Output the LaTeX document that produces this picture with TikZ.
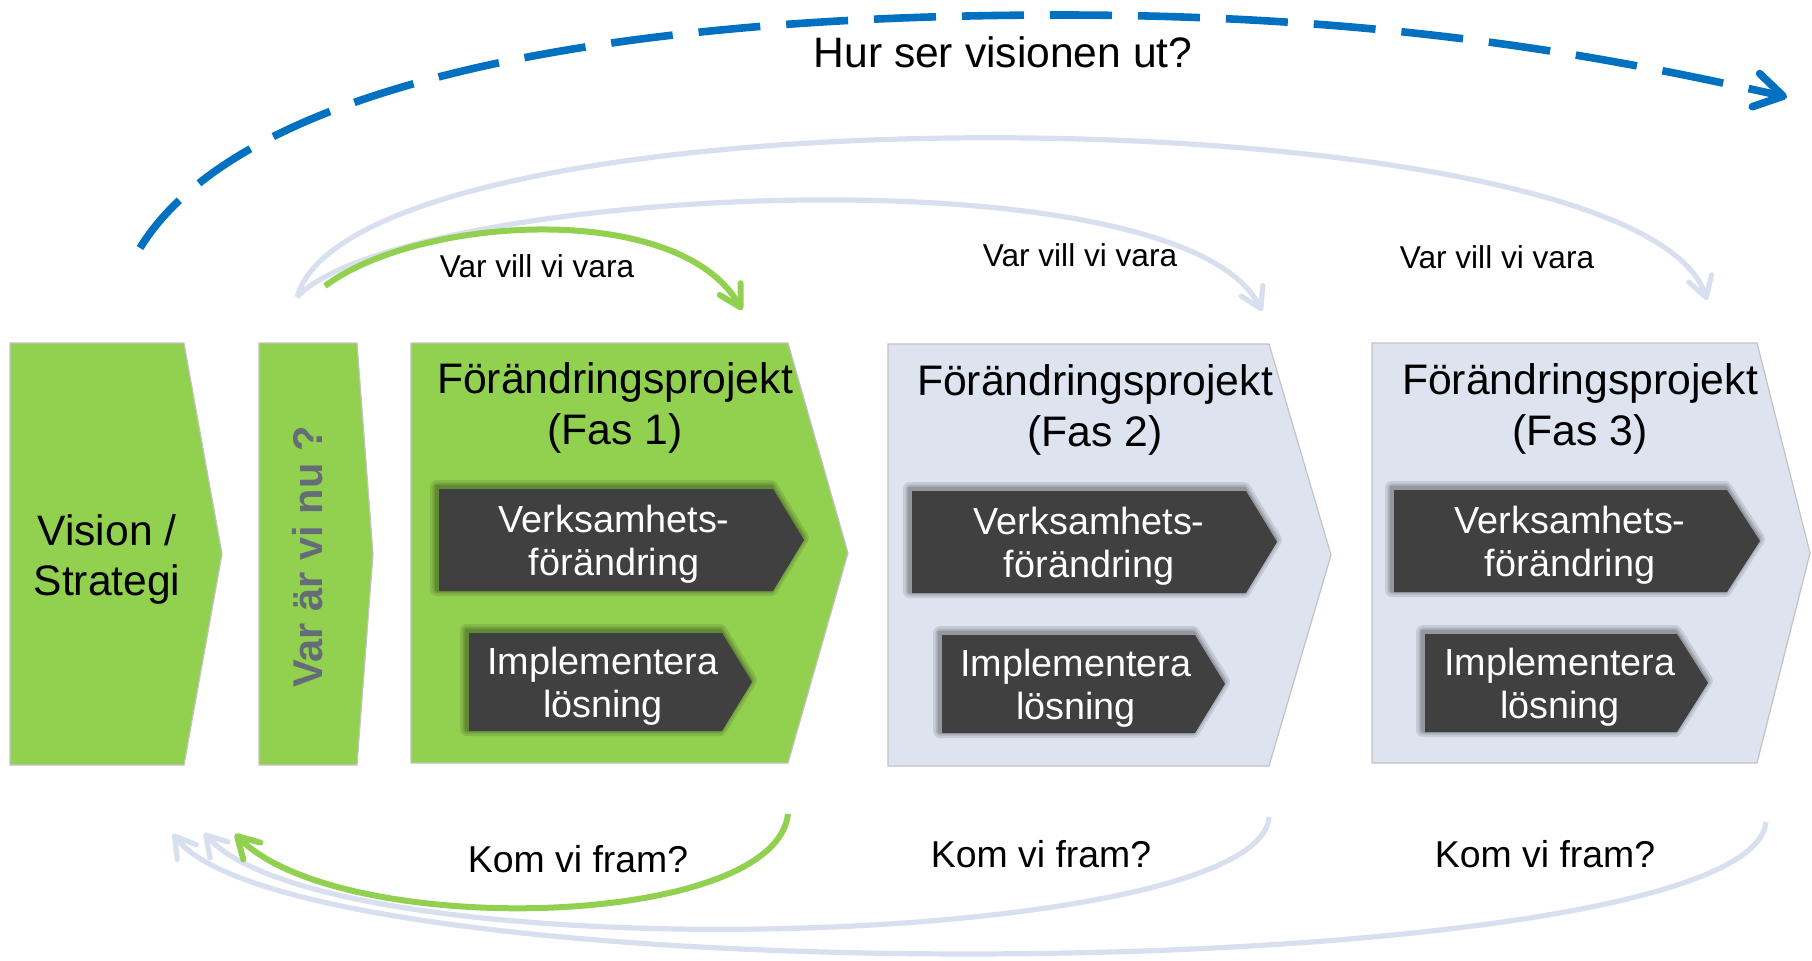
\documentclass[tikz,border=0pt]{standalone}
\usepackage{fontspec}
\setmainfont{Liberation Sans}
\usetikzlibrary{arrows.meta}
\definecolor{fgreen}{HTML}{92D050}
\definecolor{flight}{HTML}{DDE4F0}
\definecolor{farc}{HTML}{D8E0EF}
\definecolor{fblue}{HTML}{0070C0}
\definecolor{fdark}{HTML}{404040}
\definecolor{fgray}{HTML}{646C78}
\definecolor{fedge}{HTML}{C3C3C3}
\newcommand\chev[6][]{\path[#1] (#2,#3) -- (#4,#3) -- (#5,{(#3+#6)/2}) -- (#4,#6) -- (#2,#6) -- cycle;}
\newcommand\darkchev[5]{%
  \chev[halo=7pt, halo opacity=0.10, shift={(-2,-2)}]{#1}{#2}{#3}{#4}{#5}
  \chev[halo=4.5pt, halo opacity=0.12, shift={(-2,-2)}]{#1}{#2}{#3}{#4}{#5}
  \chev[halo=2.5pt, halo opacity=0.15, shift={(-2,-2)}]{#1}{#2}{#3}{#4}{#5}
  \chev[darkbox]{#1}{#2}{#3}{#4}{#5}}
\begin{document}
\begin{tikzpicture}[x=0.5pt,y=-0.5pt,
  greenbox/.style={fill=fgreen, draw=fedge, line width=0.6pt},
  lightbox/.style={fill=flight, draw=fedge, line width=0.6pt},
  darkbox/.style={fill=fdark},
  halo/.style={draw=black, line join=round, line width=#1},
  halo opacity/.style={draw opacity=#1},
  title/.style={font=\fontsize{21.35}{25.5}\selectfont, align=center, inner sep=0pt},
  dtext/.style={text=white, font=\fontsize{18.9}{21.5}\selectfont, align=center, inner sep=0pt},
  smalltext/.style={font=\fontsize{15.8}{18}\selectfont, anchor=base, inner sep=0pt},
  komtext/.style={font=\fontsize{18.7}{22}\selectfont, anchor=base, inner sep=0pt},
  larc/.style={draw=farc, line width=2.6pt, -{Straight Barb[length=10pt,width=12pt,round]}},
  garc/.style={draw=fgreen, line width=3pt, -{Straight Barb[length=10.5pt,width=12pt,round]}},
  barc/.style={draw=fblue, line width=3.8pt, dash pattern=on 31pt off 13pt, -{Straight Barb[length=14pt,width=17pt,round]}}
]
\fill[white] (0,0) rectangle (1812,960);
\useasboundingbox (0,0) rectangle (1812,960);

% main chevrons
\chev[greenbox]{10}{343}{184}{222}{765}
\chev[greenbox]{259}{343}{357}{373}{765}
\chev[greenbox]{411}{343}{788}{848}{763}
\chev[lightbox]{888}{344}{1269}{1331}{766}
\chev[lightbox]{1372}{343}{1757}{1810}{763}

% inner dark chevrons
\darkchev{439}{489}{773}{804}{591}
\darkchev{469}{633}{722}{752}{731}
\darkchev{912}{491}{1246}{1277}{593}
\darkchev{942}{635}{1195}{1225}{733}
\darkchev{1394}{490}{1727}{1760}{592}
\darkchev{1425}{634}{1677}{1708}{732}

% texts in boxes
\node[font=\fontsize{21.3}{25}\selectfont, align=center, inner sep=0pt] (vis) at (107,559) {Vision /\\Strategi};
\node[rotate=90, anchor=base, inner sep=0pt, font=\bfseries\fontsize{20.8}{24}\selectfont, text=fgray] (nu) at (322,557) {Var är vi nu ?};
\node[title] (t1) at (615,408) {Förändringsprojekt\\(Fas 1)};
\node[title] (t2) at (1095,410) {Förändringsprojekt\\(Fas 2)};
\node[title] (t3) at (1580,409) {Förändringsprojekt\\(Fas 3)};
\node[dtext] (v1) at (614,544) {Verksamhets-\\förändring};
\node[dtext] (i1) at (603,686) {Implementera\\lösning};
\node[dtext] (v2) at (1089,546) {Verksamhets-\\förändring};
\node[dtext] (i2) at (1076,688) {Implementera\\lösning};
\node[dtext] (v3) at (1570,545) {Verksamhets-\\förändring};
\node[dtext] (i3) at (1560,687) {Implementera\\lösning};

% arc end points
\coordinate (bs) at (140,248);
\coordinate (bp) at (1061,15);
\coordinate (be) at (1787,97);
\coordinate (gts) at (325,286);
\coordinate (gte) at (742,310);
\coordinate (lts) at (297,297);
\coordinate (l2e) at (1262,311);
\coordinate (l3e) at (1707,300);
\coordinate (gbs) at (788,814);
\coordinate (gbe) at (235,834);
\coordinate (lb2s) at (1269,817);
\coordinate (lb2e) at (204,833);
\coordinate (lb3s) at (1766,822);
\coordinate (lb3e) at (173,834);

% light arcs
\draw[larc] (lts) .. controls (360,80) and (1640,90) .. (l3e);
\draw[larc] (lts) .. controls (400,188) and (1180,145) .. (l2e);
\draw[larc] (lb3s) .. controls (1750,990) and (300,1000) .. (lb3e);
\draw[larc] (lb2s) .. controls (1260,950) and (330,975) .. (lb2e);
% green arcs
\draw[garc] (gts) .. controls (420,215) and (680,200) .. (gte);
\draw[garc] (gbs) .. controls (775,930) and (340,940) .. (gbe);
% blue dashed arc
\draw[barc] (bs) .. controls (240,85) and (600,15) .. (bp) .. controls (1400,15) and (1620,60) .. (be);

% labels
\node[anchor=base, inner sep=0pt, font=\fontsize{21.3}{25}\selectfont] (hur) at (1003,67) {Hur ser visionen ut?};
\node[smalltext] (q1) at (537,277) {Var vill vi vara};
\node[smalltext] (q2) at (1080,266) {Var vill vi vara};
\node[smalltext] (q3) at (1497,268) {Var vill vi vara};
\node[komtext] (k1) at (578,872) {Kom vi fram?};
\node[komtext] (k2) at (1041,867) {Kom vi fram?};
\node[komtext] (k3) at (1545,867) {Kom vi fram?};
\end{tikzpicture}
\end{document}
